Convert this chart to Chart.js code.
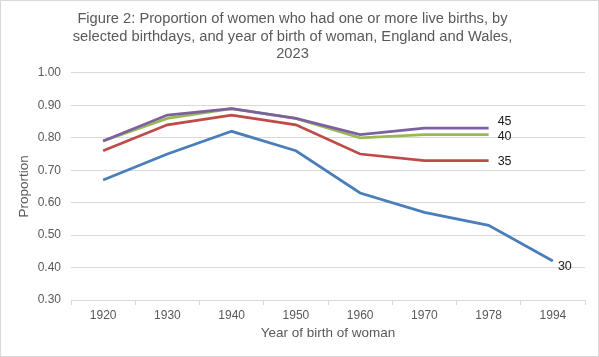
<!DOCTYPE html>
<html>
<head>
<meta charset="utf-8">
<script src="https://cdn.jsdelivr.net/npm/chart.js@4"></script>
<style>
  html, body { margin: 0; padding: 0; background: #ffffff; }
  canvas { display: block; }
</style>
</head>
<body>
<canvas id="c" width="599" height="357"></canvas>
<script>
const years = ["1920", "1930", "1940", "1950", "1960", "1970", "1978", "1994"];
const age30 = [0.67, 0.75, 0.82, 0.76, 0.63, 0.57, 0.53, 0.42];
const age35 = [0.76, 0.84, 0.87, 0.84, 0.75, 0.73, 0.73, null];
const age40 = [0.79, 0.86, 0.89, 0.86, 0.80, 0.81, 0.81, null];
const age45 = [0.79, 0.87, 0.89, 0.86, 0.81, 0.83, 0.83, null];
const seriesLabels = ["30", "35", "40", "45"];
const yTicks = [0.30, 0.40, 0.50, 0.60, 0.70, 0.80, 0.90, 1.00];
const titleLines = [
  "Figure 2: Proportion of women who had one or more live births, by",
  "selected birthdays, and year of birth of woman, England and Wales,",
  "2023"
];

const FONT = "'Liberation Sans', Arial, sans-serif";
const colors = ["#4A7EBB", "#BE4B48", "#98B954", "#7D60A0"];
const endLabelOffsets = [[5, 5], [9, 1], [9, 2], [9, -7]];

const borderPlugin = {
  id: 'outerBorder',
  beforeDraw(chart) {
    const ctx = chart.ctx;
    ctx.save();
    ctx.fillStyle = '#ffffff';
    ctx.fillRect(0, 0, chart.width, chart.height);
    ctx.strokeStyle = '#d9d9d9';
    ctx.lineWidth = 1;
    ctx.strokeRect(0.5, 0.5, chart.width - 1, chart.height - 1);
    ctx.restore();
  }
};

const endLabelPlugin = {
  id: 'endLabels',
  afterDatasetsDraw(chart) {
    const ctx = chart.ctx;
    ctx.save();
    ctx.font = "12.5px " + FONT;
    ctx.fillStyle = '#1a1a1a';
    ctx.textAlign = 'left';
    ctx.textBaseline = 'middle';
    chart.data.datasets.forEach((ds, i) => {
      const meta = chart.getDatasetMeta(i);
      let last = -1;
      ds.data.forEach((v, j) => { if (v !== null) last = j; });
      if (last < 0) return;
      const pt = meta.data[last];
      const off = endLabelOffsets[i];
      ctx.fillText(ds.label, pt.x + off[0], pt.y + off[1]);
    });
    ctx.restore();
  }
};

const seriesData = [age30, age35, age40, age45];

new Chart(document.getElementById('c'), {
  type: 'line',
  data: {
    labels: years,
    datasets: seriesData.map((d, i) => ({
      label: seriesLabels[i],
      data: d,
      borderColor: colors[i],
      backgroundColor: colors[i],
      borderWidth: 2.75,
      pointRadius: 0,
      pointHoverRadius: 0,
      tension: 0,
      fill: false,
      spanGaps: false,
      order: seriesData.length - 1 - i
    }))
  },
  options: {
    responsive: false,
    animation: false,
    devicePixelRatio: 1,
    layout: { padding: { left: 0, right: 14, top: 0, bottom: 0 } },
    plugins: {
      legend: { display: false },
      tooltip: { enabled: false },
      title: {
        display: true,
        text: titleLines,
        color: '#595959',
        font: { family: FONT, size: 14.7, weight: 'normal', lineHeight: 1.2 },
        padding: { top: 10, bottom: 10 }
      }
    },
    scales: {
      x: {
        type: 'category',
        offset: true,
        afterFit(scale) { scale.height = 57; },
        grid: {
          offset: true,
          drawOnChartArea: false,
          drawTicks: true,
          tickLength: 5,
          color: '#d9d9d9',
          lineWidth: 1
        },
        border: { display: true, color: '#d9d9d9', width: 1 },
        ticks: {
          color: '#595959',
          font: { family: FONT, size: 12 },
          padding: 3,
          maxRotation: 0,
          autoSkip: false
        },
        title: {
          display: true,
          text: 'Year of birth of woman',
          color: '#595959',
          font: { family: FONT, size: 13.5 },
          padding: { top: 0, bottom: 16 }
        }
      },
      y: {
        min: yTicks[0],
        max: yTicks[yTicks.length - 1],
        afterFit(scale) { scale.width = 71; },
        afterBuildTicks(scale) { scale.ticks = yTicks.map(v => ({ value: v })); },
        grid: {
          drawTicks: false,
          color: '#d9d9d9',
          lineWidth: 1
        },
        border: { display: false },
        ticks: {
          color: '#595959',
          font: { family: FONT, size: 12 },
          padding: 10,
          callback: (v) => Number(v).toFixed(2)
        },
        title: {
          display: true,
          text: 'Proportion',
          color: '#595959',
          font: { family: FONT, size: 13.5 },
          padding: { top: 16, bottom: 0 }
        }
      }
    }
  },
  plugins: [borderPlugin, endLabelPlugin]
});
</script>
</body>
</html>
